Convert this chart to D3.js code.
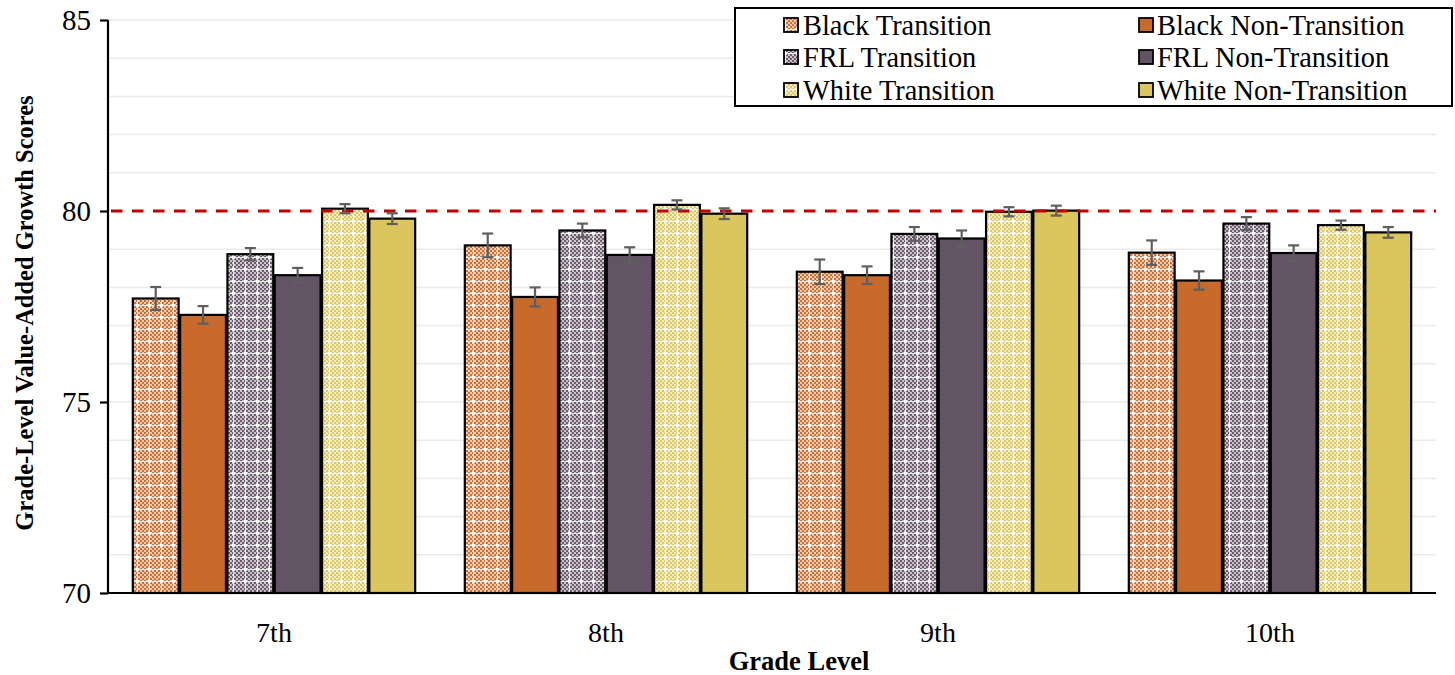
<!DOCTYPE html>
<html>
<head>
<meta charset="utf-8">
<script src="https://cdn.jsdelivr.net/npm/d3@7"></script>
<style>
  html, body { margin: 0; padding: 0; background: #fff; }
  svg { display: block; }
  text { font-family: "Liberation Serif", "Times New Roman", serif; fill: #000; }
</style>
</head>
<body>
<svg id="chart" width="1455" height="675"></svg>
<script>
// ---- data ----
const grades = ["7th", "8th", "9th", "10th"];
const seriesNames = ["Black Transition", "Black Non-Transition", "FRL Transition", "FRL Non-Transition", "White Transition", "White Non-Transition"];
const blackTransition    = [77.71, 79.10, 78.41, 78.91];
const blackNonTransition = [77.28, 77.75, 78.32, 78.18];
const frlTransition      = [78.87, 79.49, 79.40, 79.67];
const frlNonTransition   = [78.32, 78.85, 79.28, 78.90];
const whiteTransition    = [80.06, 80.16, 79.98, 79.63];
const whiteNonTransition = [79.80, 79.93, 80.01, 79.44];
const blackTransitionErr    = [0.30, 0.31, 0.32, 0.32];
const blackNonTransitionErr = [0.23, 0.25, 0.23, 0.24];
const frlTransitionErr      = [0.16, 0.18, 0.18, 0.17];
const frlNonTransitionErr   = [0.19, 0.20, 0.21, 0.20];
const whiteTransitionErr    = [0.12, 0.12, 0.12, 0.12];
const whiteNonTransitionErr = [0.14, 0.14, 0.13, 0.14];
const benchmark = 80;
const yTicks = [70, 75, 80, 85];
const yMinorTicks = [71, 72, 73, 74, 75, 76, 77, 78, 79, 81, 82, 83, 84, 85];

// ---- build table ----
const seriesValues = [blackTransition, blackNonTransition, frlTransition, frlNonTransition, whiteTransition, whiteNonTransition];
const seriesErrs = [blackTransitionErr, blackNonTransitionErr, frlTransitionErr, frlNonTransitionErr, whiteTransitionErr, whiteNonTransitionErr];
const baseColors = ["#C86A2B", "#C86A2B", "#635465", "#635465", "#DAC65C", "#DAC65C"];
const patterned = [true, false, true, false, true, false];

const table = [];
grades.forEach((g, gi) => {
  seriesNames.forEach((s, si) => {
    table.push({grade: g, series: s, si, value: seriesValues[si][gi], err: seriesErrs[si][gi]});
  });
});

// ---- layout ----
const svg = d3.select("#chart");
const pL = 108, pR = 1436, pT = 20, pB = 593;

const x = d3.scaleBand().domain(grades).range([pL, pR]).paddingInner(0.145).paddingOuter(0.0725);
const xs = d3.scaleBand().domain(seriesNames).range([0, x.bandwidth()]).padding(0);
const y = d3.scaleLinear().domain([70, 85]).range([pB, pT]);

// ---- patterns ----
const defs = svg.append("defs");
function fillFor(si) {
  return patterned[si] ? `url(#pat${si})` : baseColors[si];
}
seriesNames.forEach((s, si) => {
  if (!patterned[si]) return;
  const c = baseColors[si];
  const p = defs.append("pattern").attr("id", "pat" + si)
    .attr("patternUnits", "userSpaceOnUse").attr("width", 12).attr("height", 12);
  p.append("rect").attr("width", 12).attr("height", 12).attr("fill", "#fff");
  for (let i = 0; i < 6; i++) {
    for (let j = 0; j < 6; j++) {
      const on = (i + j) % 2 === 0;
      p.append("rect").attr("x", i * 2).attr("y", j * 2).attr("width", 2).attr("height", 2)
        .attr("fill", c).attr("fill-opacity", on ? 0.95 : 0.35)
        .attr("shape-rendering", "crispEdges");
    }
  }
  p.append("rect").attr("x", 5).attr("y", 0).attr("width", 1).attr("height", 12).attr("fill", "#fff").attr("fill-opacity", 0.8).attr("shape-rendering", "crispEdges");
  p.append("rect").attr("x", 0).attr("y", 5).attr("width", 12).attr("height", 1).attr("fill", "#fff").attr("fill-opacity", 0.8).attr("shape-rendering", "crispEdges");
  p.append("rect").attr("x", 4).attr("y", 4).attr("width", 3).attr("height", 3).attr("fill", "#fff").attr("shape-rendering", "crispEdges");
});

// ---- gridlines ----
svg.append("g").selectAll("line").data(yMinorTicks).join("line")
  .attr("x1", pL).attr("x2", pR)
  .attr("y1", d => y(d)).attr("y2", d => y(d))
  .attr("stroke", "#EBEBEB").attr("stroke-width", 1.5);

// ---- bars ----
svg.append("g").selectAll("rect").data(table).join("rect")
  .attr("x", d => x(d.grade) + xs(d.series) + 0.75)
  .attr("width", xs.bandwidth() - 1.5)
  .attr("y", d => y(d.value))
  .attr("height", d => y(70) - y(d.value))
  .attr("fill", d => fillFor(d.si))
  .attr("stroke", "#000").attr("stroke-width", 2.2);

// ---- benchmark line ----
svg.append("line")
  .attr("x1", pL + 3).attr("x2", pR)
  .attr("y1", y(benchmark)).attr("y2", y(benchmark))
  .attr("stroke", "#C00000").attr("stroke-width", 3.2)
  .attr("stroke-dasharray", "11.5,9.5");

// ---- error bars ----
const eb = svg.append("g").attr("stroke", "#5F5F5F").attr("stroke-width", 2.2);
table.forEach(d => {
  const cx = x(d.grade) + xs(d.series) + xs.bandwidth() / 2;
  eb.append("line").attr("x1", cx).attr("x2", cx).attr("y1", y(d.value + d.err)).attr("y2", y(d.value - d.err));
  eb.append("line").attr("x1", cx - 5.5).attr("x2", cx + 5.5).attr("y1", y(d.value + d.err)).attr("y2", y(d.value + d.err));
  eb.append("line").attr("x1", cx - 5.5).attr("x2", cx + 5.5).attr("y1", y(d.value - d.err)).attr("y2", y(d.value - d.err));
});

// ---- axes ----
const yAxis = d3.axisLeft(y).tickValues(yTicks).tickSize(8).tickPadding(9).tickFormat(d3.format("d"));
const gy = svg.append("g").attr("transform", `translate(${pL},0)`).call(yAxis);
gy.select(".domain").attr("stroke", "#000").attr("stroke-width", 2.2).attr("d", `M0,${y(85)}V${y(70)}`);
gy.selectAll(".tick line").attr("stroke", "#000").attr("stroke-width", 2.2);
gy.selectAll(".tick text").attr("font-size", 29).attr("font-family", "Liberation Serif").attr("fill", "#000");

const xAxis = d3.axisBottom(x).tickSize(0).tickPadding(29);
const gx = svg.append("g").attr("transform", `translate(0,${pB})`).call(xAxis);
gx.select(".domain").attr("stroke", "#000").attr("stroke-width", 2.2).attr("d", `M${pL},0H${pR}`);
gx.selectAll(".tick text").attr("font-size", 28).attr("font-family", "Liberation Serif").attr("fill", "#000");

// ---- axis titles ----
svg.append("text").attr("x", 799).attr("y", 670).attr("text-anchor", "middle")
  .attr("font-size", 26.5).attr("font-weight", "bold").text("Grade Level");
svg.append("text").attr("transform", `translate(33,313) rotate(-90)`).attr("text-anchor", "middle")
  .attr("font-size", 24.5).attr("font-weight", "bold").text("Grade-Level Value-Added Growth Scores");

// ---- legend ----
const lg = svg.append("g");
lg.append("rect").attr("x", 735).attr("y", 8).attr("width", 717).attr("height", 98)
  .attr("fill", "#fff").attr("stroke", "#000").attr("stroke-width", 2);
const legPos = [
  {sx: 784, tx: 803, cy: 25}, {sx: 1139, tx: 1157, cy: 25},
  {sx: 784, tx: 803, cy: 57}, {sx: 1139, tx: 1157, cy: 57},
  {sx: 784, tx: 803, cy: 90}, {sx: 1139, tx: 1157, cy: 90}
];
seriesNames.forEach((s, si) => {
  const p = legPos[si];
  lg.append("rect").attr("x", p.sx).attr("y", p.cy - 7).attr("width", 14).attr("height", 14)
    .attr("fill", fillFor(si)).attr("stroke", "#000").attr("stroke-width", 1.8);
  lg.append("text").attr("x", p.tx).attr("y", p.cy).attr("dy", "0.35em")
    .attr("font-size", 28.4).text(s);
});
</script>
</body>
</html>
